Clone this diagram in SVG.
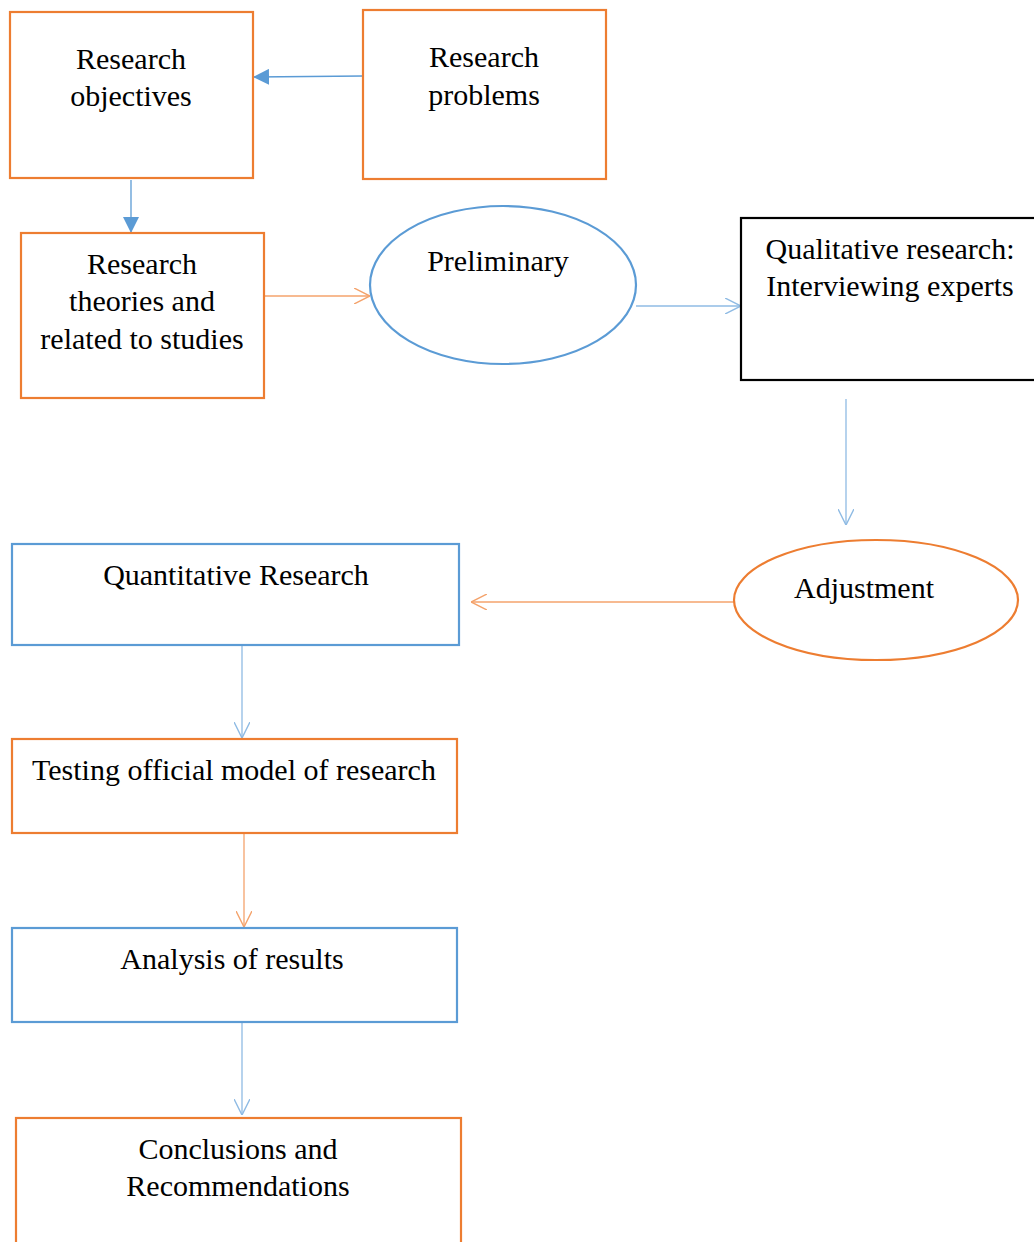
<svg xmlns="http://www.w3.org/2000/svg" width="1034" height="1242" viewBox="0 0 1034 1242">
<defs>
<style>
.t{font-family:"Liberation Serif","Times New Roman",serif;font-size:30px;fill:#000;text-anchor:middle}
.ob{fill:#fff;stroke:#ed7d31;stroke-width:2.2}
.bb{fill:#fff;stroke:#5b9bd5;stroke-width:2.2}
.kb{fill:#fff;stroke:#000;stroke-width:2.2}
.cb{fill:none;stroke:#8fbbe4;stroke-width:1.3}
.co{fill:none;stroke:#f4a36c;stroke-width:1.3}
.cbs{fill:none;stroke:#5b9bd5;stroke-width:1.3}
</style>
<marker id="fb" viewBox="0 0 10 10" refX="10" refY="5" markerWidth="16" markerHeight="16" markerUnits="userSpaceOnUse" orient="auto"><path d="M0,0 L10,5 L0,10 Z" fill="#5b9bd5"/></marker>
<marker id="ob" viewBox="0 0 10 10" refX="10" refY="5" markerWidth="16" markerHeight="16" markerUnits="userSpaceOnUse" orient="auto"><path d="M0,0 L10,5 L0,10" fill="none" stroke="#8fbbe4" stroke-width="0.9"/></marker>
<marker id="oo" viewBox="0 0 10 10" refX="10" refY="5" markerWidth="16" markerHeight="16" markerUnits="userSpaceOnUse" orient="auto"><path d="M0,0 L10,5 L0,10" fill="none" stroke="#f4a36c" stroke-width="0.9"/></marker>
</defs>
<rect width="1034" height="1242" fill="#fff"/>
<g id="connectors">
<line class="cbs" x1="363" y1="76" x2="253" y2="77" marker-end="url(#fb)"/>
<line class="cbs" x1="131" y1="180" x2="131" y2="233" marker-end="url(#fb)"/>
<line class="co" x1="264" y1="296" x2="370" y2="296" marker-end="url(#oo)"/>
<line class="cb" x1="636" y1="306" x2="741" y2="306" marker-end="url(#ob)"/>
<line class="cb" x1="846" y1="399" x2="846" y2="525" marker-end="url(#ob)"/>
<line class="co" x1="734" y1="602" x2="471" y2="602" marker-end="url(#oo)"/>
<line class="cb" x1="242" y1="646" x2="242" y2="738" marker-end="url(#ob)"/>
<line class="co" x1="244" y1="834" x2="244" y2="927" marker-end="url(#oo)"/>
<line class="cb" x1="242" y1="1023" x2="242" y2="1115" marker-end="url(#ob)"/>
</g>
<g id="research-objectives"><rect class="ob" x="10" y="12" width="243" height="166"/><text class="t" x="131" y="69">Research</text><text class="t" x="131" y="106">objectives</text></g>
<g id="research-problems"><rect class="ob" x="363" y="10" width="243" height="169"/><text class="t" x="484" y="67">Research</text><text class="t" x="484" y="105">problems</text></g>
<g id="research-theories"><rect class="ob" x="21" y="233" width="243" height="165"/><text class="t" x="142" y="274">Research</text><text class="t" x="142" y="311">theories and</text><text class="t" x="142" y="349">related to studies</text></g>
<g id="preliminary"><ellipse class="bb" cx="503" cy="285" rx="133" ry="79"/><text class="t" x="498" y="271">Preliminary</text></g>
<g id="qualitative"><rect class="kb" x="741" y="218" width="300" height="162"/><text class="t" x="890" y="259">Qualitative research:</text><text class="t" x="890" y="296">Interviewing experts</text></g>
<g id="adjustment"><ellipse class="ob" cx="876" cy="600" rx="142" ry="60"/><text class="t" x="864" y="598">Adjustment</text></g>
<g id="quantitative"><rect class="bb" x="12" y="544" width="447" height="101"/><text class="t" x="236" y="585">Quantitative Research</text></g>
<g id="testing"><rect class="ob" x="12" y="739" width="445" height="94"/><text class="t" x="234" y="780">Testing official model of research</text></g>
<g id="analysis"><rect class="bb" x="12" y="928" width="445" height="94"/><text class="t" x="232" y="969">Analysis of results</text></g>
<g id="conclusions"><rect class="ob" x="16" y="1118" width="445" height="160"/><text class="t" x="238" y="1159">Conclusions and</text><text class="t" x="238" y="1196">Recommendations</text></g>
</svg>
